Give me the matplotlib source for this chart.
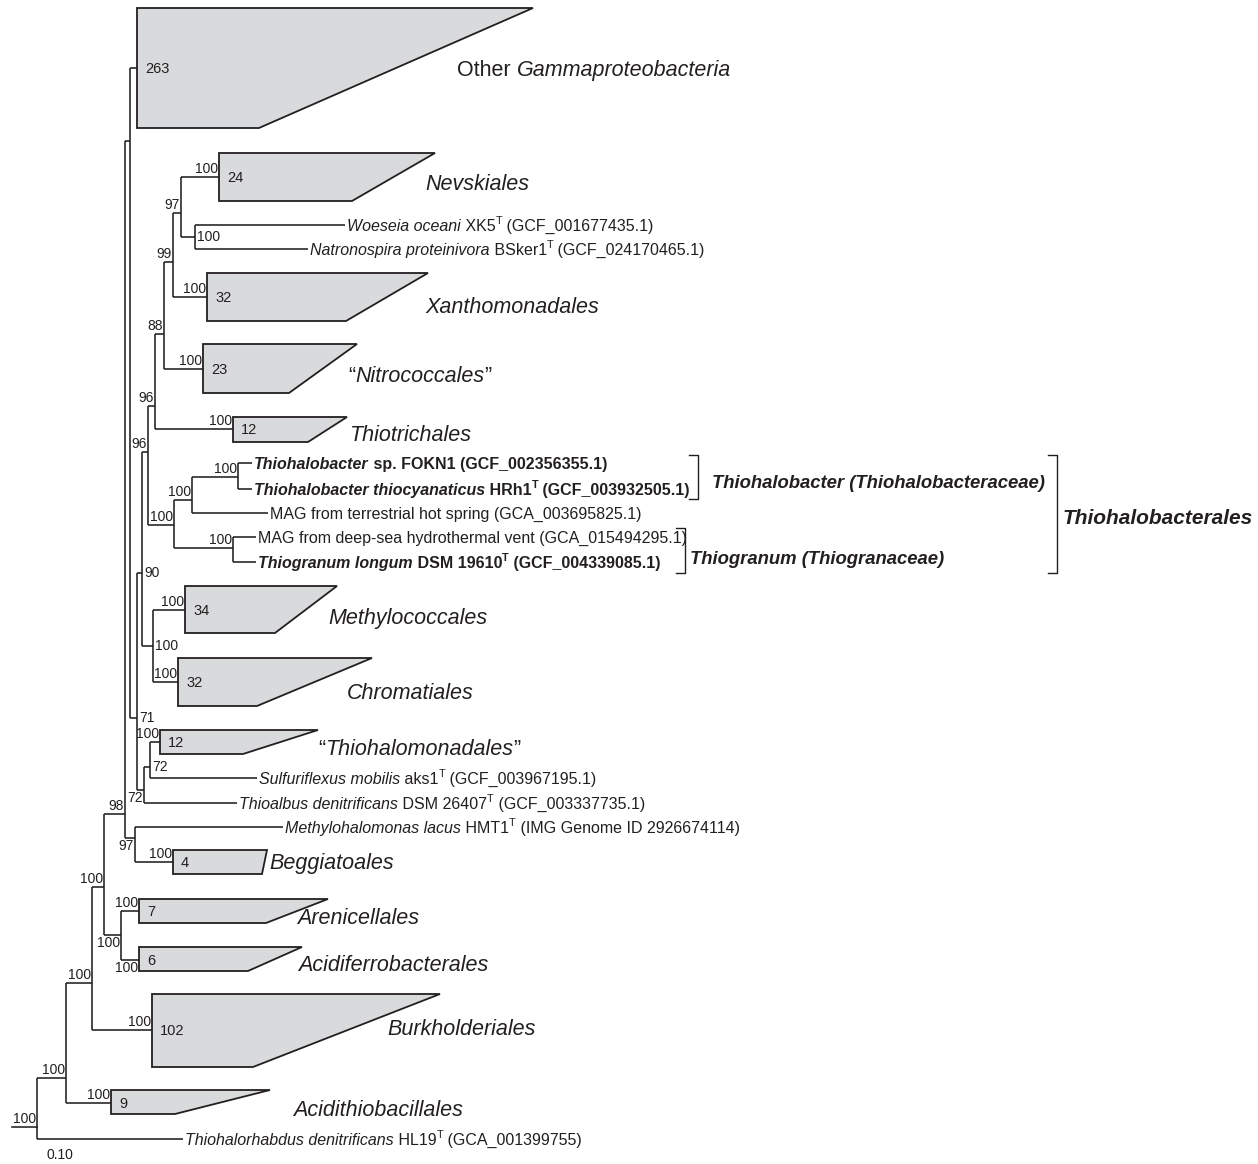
import matplotlib.pyplot as plt
from matplotlib.patches import Polygon

plt.rcParams['font.family'] = ['Liberation Sans', 'DejaVu Sans']

INK = '#231f20'
FILL = '#d9dadc'

# internal nodes: id, parent, depth, row, bootstrap, where the bootstrap sits
nodes = [
    ("root", None, 37, 1127, "100", "al"),
    ("A", "root", 66, 1078, "100", "al"),
    ("B", "A", 92, 983, "100", "al"),
    ("n104", "B", 104, 887, "100", "al"),
    ("n98", "n104", 125, 814, "98", "al"),
    ("nX", "n98", 130, 141, "", ""),
    ("n71", "nX", 137, 718, "71", "r"),
    ("n90", "n71", 142, 573, "90", "r"),
    ("n96b", "n90", 148, 452, "96", "al"),
    ("n96a", "n96b", 155, 406, "96", "al"),
    ("n88", "n96a", 164, 334, "88", "al"),
    ("n99", "n88", 173, 262, "99", "al"),
    ("n97a", "n99", 181, 213, "97", "al"),
    ("nwoe", "n97a", 195, 237, "100", "r"),
    ("nthb", "n96b", 174, 525, "100", "al"),
    ("nthb1", "nthb", 192, 500, "100", "al"),
    ("nthb2", "nthb1", 238, 477, "100", "al"),
    ("nthg", "nthb", 233, 548, "100", "al"),
    ("nmc", "n90", 153, 646, "100", "r"),
    ("n72b", "n71", 144, 790, "72", "bl"),
    ("n72a", "n72b", 150, 767, "72", "r"),
    ("n97b", "n98", 135, 838, "97", "bl"),
    ("narac", "n104", 121, 935, "100", "bl"),
]

# collapsed clades: parent, depth, row, top, bottom, top-right, bottom-right, size, bootstrap, pos
clades = [
    ("nX", 137, 68, 8, 128, 533, 259, "263", "", ""),
    ("n97a", 219, 177, 153, 201, 435, 352, "24", "100", "al"),
    ("n99", 207, 297, 273, 321, 428, 346, "32", "100", "al"),
    ("n88", 203, 369, 344, 393, 357, 289, "23", "100", "al"),
    ("n96a", 233, 429, 417, 442, 347, 308, "12", "100", "al"),
    ("nmc", 185, 610, 586, 633, 337, 275, "34", "100", "al"),
    ("nmc", 178, 682, 658, 706, 372, 257, "32", "100", "al"),
    ("n72a", 160, 742, 730, 754, 318, 243, "12", "100", "al"),
    ("n97b", 173, 862, 850, 874, 267, 262, "4", "100", "al"),
    ("narac", 139, 911, 899, 923, 328, 266, "7", "100", "al"),
    ("narac", 139, 960, 947, 971, 302, 248, "6", "100", "bl"),
    ("B", 152, 1030, 994, 1067, 440, 253, "102", "100", "al"),
    ("A", 111, 1103, 1090, 1114, 270, 175, "9", "100", "al"),
]

clade_names = [
    [("Other ", "n"), ("Gammaproteobacteria", "i")],
    [("Nevskiales", "i")],
    [("Xanthomonadales", "i")],
    [("\u201c", "n"), ("Nitrococcales", "i"), ("\u201d", "n")],
    [("Thiotrichales", "i")],
    [("Methylococcales", "i")],
    [("Chromatiales", "i")],
    [("\u201c", "n"), ("Thiohalomonadales", "i"), ("\u201d", "n")],
    [("Beggiatoales", "i")],
    [("Arenicellales", "i")],
    [("Acidiferrobacterales", "i")],
    [("Burkholderiales", "i")],
    [("Acidithiobacillales", "i")],
]
clade_name_x = [457, 425, 425, 348, 349, 328, 347, 318, 269, 297, 298, 387, 293]
clade_name_y = [68, 182, 305, 374, 433, 616, 691, 747, 861, 916, 963, 1027, 1108]

# single genomes: parent, depth, row
leaves = [
    ("nwoe", 345, 225),
    ("nwoe", 308, 249),
    ("nthb2", 252, 463),
    ("nthb2", 252, 489),
    ("nthb1", 268, 513),
    ("nthg", 256, 537),
    ("nthg", 256, 562),
    ("n72a", 257, 778),
    ("n72b", 237, 803),
    ("n97b", 283, 827),
    ("root", 183, 1139),
]
leaf_names = [
    [("Woeseia oceani", "i"), (" XK5", "n"), ("T", "sup"), (" (GCF_001677435.1)", "n")],
    [("Natronospira proteinivora", "i"), (" BSker1", "n"), ("T", "sup"), (" (GCF_024170465.1)", "n")],
    [("Thiohalobacter", "bi"), (" sp. FOKN1 (GCF_002356355.1)", "b")],
    [("Thiohalobacter thiocyanaticus", "bi"), (" HRh1", "b"), ("T", "bsup"), (" (GCF_003932505.1)", "b")],
    [("MAG from terrestrial hot spring (GCA_003695825.1)", "n")],
    [("MAG from deep-sea hydrothermal vent (GCA_015494295.1)", "n")],
    [("Thiogranum longum", "bi"), (" DSM 19610", "b"), ("T", "bsup"), (" (GCF_004339085.1)", "b")],
    [("Sulfuriflexus mobilis", "i"), (" aks1", "n"), ("T", "sup"), (" (GCF_003967195.1)", "n")],
    [("Thioalbus denitrificans", "i"), (" DSM 26407", "n"), ("T", "sup"), (" (GCF_003337735.1)", "n")],
    [("Methylohalomonas lacus", "i"), (" HMT1", "n"), ("T", "sup"), (" (IMG Genome ID 2926674114)", "n")],
    [("Thiohalorhabdus denitrificans", "i"), (" HL19", "n"), ("T", "sup"), (" (GCA_001399755)", "n")],
]

# family / order brackets: x, top, bottom
brackets = [(698, 455, 499), (685, 528, 573), (1057, 455, 573)]
group_labels = ["Thiohalobacter (Thiohalobacteraceae)", "Thiogranum (Thiogranaceae)", "Thiohalobacterales"]
group_x = [712, 690, 1063]
group_y = [481, 557, 517]
group_size = [13.3, 13.3, 15]

fig = plt.figure(figsize=(12.58, 11.64), dpi=100)
ax = fig.add_axes([0, 0, 1, 1])
ax.set_xlim(0, 1258)
ax.set_ylim(1164, 0)
ax.axis('off')
renderer = fig.canvas.get_renderer()

STYLES = {
    "n": ("normal", "normal", False),
    "i": ("italic", "normal", False),
    "b": ("normal", "bold", False),
    "bi": ("italic", "bold", False),
    "sup": ("normal", "normal", True),
    "bsup": ("normal", "bold", True),
}


def seg_width(s, **kw):
    t1 = ax.text(0, 0, "|" + s + "|", **kw)
    t2 = ax.text(0, 0, "||", **kw)
    w = t1.get_window_extent(renderer).width - t2.get_window_extent(renderer).width
    t1.remove()
    t2.remove()
    return w


def rich(x, row, parts, size):
    px = size * 100 / 72
    base = row + 0.36 * px
    for s, kind in parts:
        style, weight, sup = STYLES[kind]
        fs = size * 0.68 if sup else size
        y = base - 0.42 * px if sup else base
        kw = dict(fontsize=fs, style=style, weight=weight, color=INK)
        ax.text(x, y, s, va='baseline', ha='left', **kw)
        x += seg_width(s, **kw)


def support(x, y, txt, pos):
    if not txt:
        return
    if pos == "al":
        ax.text(x - 1, y - 1, txt, ha='right', va='bottom', fontsize=10, color=INK)
    elif pos == "bl":
        ax.text(x - 1, y + 1, txt, ha='right', va='top', fontsize=10, color=INK)
    else:
        ax.text(x + 2, y, txt, ha='left', va='center', fontsize=10, color=INK)


lw = 1.15
pos = {n[0]: (n[2], n[3]) for n in nodes}
child_rows = {n[0]: [] for n in nodes}
for n in nodes:
    if n[1]:
        child_rows[n[1]].append(n[3])
for c in clades:
    child_rows[c[0]].append(c[2])
for l in leaves:
    child_rows[l[0]].append(l[2])

# vertical connectors and incoming branches of internal nodes
for nid, parent, x, y, sup, where in nodes:
    rows = child_rows[nid]
    ax.plot([x, x], [min(rows), max(rows)], color=INK, lw=lw, solid_capstyle='butt')
    if parent:
        ax.plot([pos[parent][0], x], [y, y], color=INK, lw=lw, solid_capstyle='butt')
    else:
        ax.plot([12, x], [y, y], color=INK, lw=lw)
    support(x, y, sup, where)

# collapsed clades
for (parent, x, y, top, bot, tr, br, size, sup, where), name, nx, ny in zip(
        clades, clade_names, clade_name_x, clade_name_y):
    ax.plot([pos[parent][0], x], [y, y], color=INK, lw=lw, solid_capstyle='butt')
    ax.add_patch(Polygon([(x, top), (tr, top), (br, bot), (x, bot)], closed=True,
                         facecolor=FILL, edgecolor=INK, lw=1.3))
    ax.text(x + 8, y + 1, size, ha='left', va='center', fontsize=10.5, color=INK)
    support(x, y, sup, where)
    rich(nx, ny, name, 15.5)

# single genomes
for (parent, x, y), name in zip(leaves, leaf_names):
    ax.plot([pos[parent][0], x], [y, y], color=INK, lw=lw, solid_capstyle='butt')
    rich(x + 2, y, name, 11.5)

# brackets
for (bx, top, bot), lab, gx, gy, gs in zip(brackets, group_labels, group_x, group_y, group_size):
    ax.plot([bx - 9, bx, bx, bx - 9], [top, top, bot, bot], color=INK, lw=1.0)
    rich(gx, gy, [(lab, "bi")], gs)

ax.text(60, 1155, "0.10", ha='center', va='center', fontsize=10, color=INK)

fig.savefig("out.png", dpi=100)
